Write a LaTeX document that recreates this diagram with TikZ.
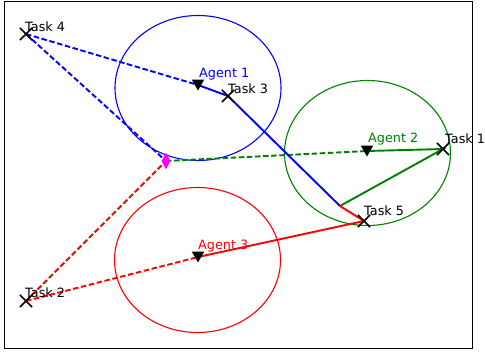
\documentclass[tikz,border=0pt]{standalone}
\usepackage{fontspec}
\setmainfont{DejaVu Sans}
\usepackage{xcolor}
\usepackage{tikz}
\usetikzlibrary{shapes.geometric,shapes.misc}
\definecolor{mplgreen}{RGB}{0,128,0}
\definecolor{mplblue}{RGB}{0,0,255}
\definecolor{mplred}{RGB}{255,0,0}
\definecolor{mplmag}{RGB}{255,0,255}

\begin{document}
\begin{tikzpicture}[x=1pt,y=-1pt,
  font=\fontsize{12.8}{14}\selectfont,
  task/.style={cross out,draw=black,line width=1.6pt,minimum size=10.5pt,inner sep=0pt},
  agent/.style={regular polygon,regular polygon sides=3,shape border rotate=180,
                fill=black,minimum size=14.5pt,inner sep=0pt,yshift=1.8pt},
  meet/.style={diamond,fill=mplmag,minimum width=9pt,minimum height=17pt,inner sep=0pt},
  reach/.style={ellipse,draw,line width=1.1pt,minimum width=166pt,minimum height=145pt,inner sep=0pt},
  route/.style={line width=1.9pt},
  plan/.style={line width=1.9pt,dash pattern=on 5.5pt off 2.6pt},
  tag/.style={anchor=base west,inner sep=0pt}]
  \useasboundingbox (0,0) rectangle (485,354);
  % axes frame
  \draw[line width=0.9pt] (4,1) rectangle (472,348);
  % positions
  \coordinate (t1) at (443,149);
  \coordinate (t2) at (26,301);
  \coordinate (t3) at (228,96);
  \coordinate (t4) at (26,34);
  \coordinate (t5) at (364,221);
  \coordinate (a1) at (198,85);
  \coordinate (a2) at (367,151);
  \coordinate (a3) at (198,257);
  \coordinate (mp) at (166,161);
  \coordinate (ep) at (340,206);
  % agent ranges
  \node[reach,draw=mplblue]  (r1) at (198,88)  {};
  \node[reach,draw=mplgreen] (r2) at (367.5,153) {};
  \node[reach,draw=mplred]   (r3) at (197.5,260) {};
  % planned legs
  \draw[plan,mplblue] (t4) -- (a1);
  \draw[plan,mplblue] (t4) -- (mp);
  \draw[plan,mplgreen] (mp) -- (a2);
  \draw[plan,mplred] (t2) -- (mp);
  \draw[plan,mplred] (t2) -- (a3);
  % executed legs
  \draw[route,mplblue] (a1) -- (t3) -- (ep);
  \draw[route,mplgreen] (a2) -- (t1) -- (ep);
  \draw[route,mplred] (a3) -- (t5) -- (ep);
  % markers
  \foreach \t in {1,...,5} \node[task] (x\t) at (t\t) {};
  \foreach \a in {1,2,3} \node[agent] (v\a) at (a\a) {};
  \node[meet] (d) at (mp) {};
  % labels
  \node[tag] (l4) at (25,31) {Task 4};
  \node[tag] (l3) at (228,93) {Task 3};
  \node[tag] (l1) at (445,143) {Task 1};
  \node[tag] (l5) at (364,215) {Task 5};
  \node[tag] (l2) at (25,297) {Task 2};
  \node[tag,text=mplblue]  (g1) at (199,77)  {Agent 1};
  \node[tag,text=mplgreen] (g2) at (368,142) {Agent 2};
  \node[tag,text=mplred]   (g3) at (198,249) {Agent 3};
\end{tikzpicture}
\end{document}
